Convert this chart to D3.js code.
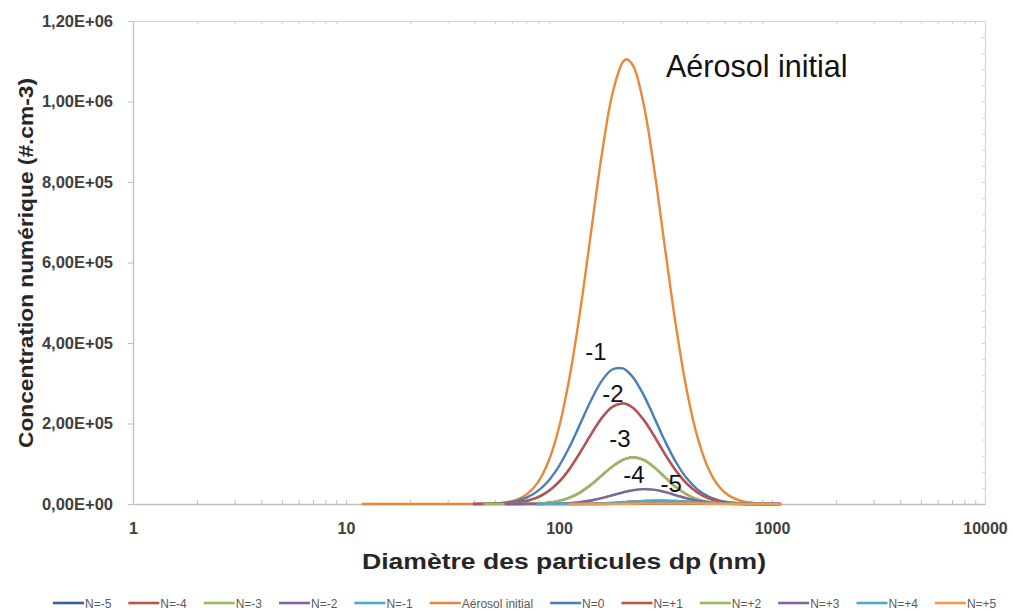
<!DOCTYPE html>
<html><head><meta charset="utf-8">
<script src="https://cdn.jsdelivr.net/npm/d3@7"></script>
<style>
body{margin:0;background:#fff}
svg text{font-family:"Liberation Sans",Arial,sans-serif}
</style>
</head><body>
<svg id="chart" width="1013" height="610"></svg>
<script>
// ---------------- DATA ----------------
// null = no value recorded for that diameter
const diameters = [12, 20, 31.6, 39.8, 44.7, 50.1, 56.2, 63.1, 70.8, 79.4, 89.1, 100, 112.2, 125.9, 141.3, 158.5, 177.8, 199.5, 208, 223.9, 251.2, 281.8, 316.2, 354.8, 398.1, 446.7, 501.2, 562.3, 631, 707.9, 794.3, 891.3, 1000, 1096];

const aerosolInitial = [0, 0, 10, 145, 480, 1460, 4080, 10450, 24580, 52960, 104800, 190000, 316000, 481900, 674200, 864900, 1017600, 1098100, 1105000, 1086700, 986400, 821100, 626900, 439000, 281900, 166000, 89700, 44400, 20190, 8410, 3210, 1130, 360, 140];
const nZero = [null, null, null, 178, 520, 1400, 3450, 7880, 16570, 32090, 57290, 94250, 142900, 199700, 257300, 305400, 334100, 336800, 331100, 312900, 268000, 211500, 153800, 103100, 63700, 36270, 19020, 9200, 4100, 1690, 640, 220, 70, 27];
const nOne = [null, null, null, 57, 183, 535, 1440, 3540, 8000, 16580, 31520, 54900, 87750, 128600, 172900, 213200, 241000, 249900, 247900, 237700, 207300, 165900, 121700, 81900, 50500, 28600, 14850, 7070, 3080, 1240, 450, 150, 45, 17];
const nTwo = [null, null, null, null, 2, 10, 39, 140, 450, 1290, 3310, 7620, 15700, 28930, 47690, 70360, 92880, 109700, 113400, 116000, 108800, 89880, 65340, 41800, 23550, 11680, 5100, 1960, 660, 197, 52, 12, 3, null];
const nThree = [null, null, null, null, null, null, 3, 11, 40, 128, 372, 966, 2250, 4680, 8720, 14540, 21690, 28960, 31270, 34590, 36980, 35140, 29390, 21640, 14020, 8000, 4020, 1780, 690, 237, 71, 19, 5, null];
const nFour = [null, null, null, null, null, null, null, null, null, 4, 14, 44, 128, 328, 745, 1500, 2690, 4280, 4910, 6040, 7570, 8420, 8320, 7300, 5690, 3930, 2420, 1320, 640, 270, 105, 36, 11, 4];
const nFive = [null, null, null, null, null, null, null, null, null, null, null, null, 4, 14, 40, 100, 216, 415, 509, 700, 1040, 1360, 1560, 1580, 1410, 1110, 770, 470, 250, 117, 49, 18, 6, 2];

const seriesNames = ["N=-5", "N=-4", "N=-3", "N=-2", "N=-1", "Aérosol initial", "N=0", "N=+1", "N=+2", "N=+3", "N=+4", "N=+5"];
// negative charges mirror the positive ones (symmetric charging)
const seriesValues = [nFive, nFour, nThree, nTwo, nOne, aerosolInitial, nZero, nOne, nTwo, nThree, nFour, nFive];
const seriesColors = ["#3B5F9C", "#C0504D", "#9BBB59", "#8064A2", "#4BACC6", "#E8883A", "#4A7EBB", "#C0504D", "#9BBB59", "#8064A2", "#4BACC6", "#F79646"];

const xTickValues = [1, 10, 100, 1000, 10000];
const yTickValues = [0, 200000, 400000, 600000, 800000, 1000000, 1200000];

const curveLabels = ["-1", "-2", "-3", "-4", "-5"];
const curveLabelDiam = [149, 179, 193, 225, 336];
const curveLabelConc = [358000, 253000, 142000, 52000, 30000];

const titleText = "Aérosol initial";
const titleDiam = 318, titleConc = 1061000;

// ---------------- LAYOUT ----------------
const svg = d3.select("#chart");
const L = 133, R = 985, T = 21, B = 504;

const x = d3.scaleLog().domain([1, 10000]).range([L, R]);
const y = d3.scaleLinear().domain([0, 1200000]).range([B, T]);

const fmt = v => {
  if (v === 0) return "0,00E+00";
  const e = Math.floor(Math.log10(v));
  const m = v / Math.pow(10, e);
  return m.toFixed(2).replace(".", ",") + "E+" + String(e).padStart(2, "0");
};

const minor = [];
for (let k = 0; k < 4; k++) for (let m = 2; m <= 9; m++) minor.push(m * Math.pow(10, k));

// top frame (minor ticks down)
const gTop = svg.append("g").attr("transform", `translate(0,${T})`)
  .call(d3.axisBottom(x).tickValues(minor).tickSize(3).tickSizeOuter(0).tickFormat(""));
// right frame (ticks inward)
const gRight = svg.append("g").attr("transform", `translate(${R},0)`)
  .call(d3.axisLeft(y).tickValues(d3.range(0, 1200001, 40000)).tickSize(3).tickSizeOuter(0).tickFormat(""));
[gTop, gRight].forEach(g => {
  g.select(".domain").attr("stroke", "#D3D3D3").attr("stroke-width", 1.2);
  g.selectAll(".tick line").attr("stroke", "#D3D3D3");
});

// bottom axis ticks (pointing up)
const gBottomTicks = svg.append("g").attr("transform", `translate(0,${B})`)
  .call(d3.axisTop(x).tickValues(minor.concat([10, 100, 1000])).tickSize(4).tickSizeOuter(0).tickFormat(""));
gBottomTicks.select(".domain").attr("stroke", "#BFBFBF").attr("stroke-width", 1.3);
gBottomTicks.selectAll(".tick line").attr("stroke", "#BFBFBF");

// bottom labels
const gBottom = svg.append("g").attr("transform", `translate(0,${B})`)
  .call(d3.axisBottom(x).tickValues(xTickValues).tickSize(0).tickPadding(19).tickFormat(d3.format("d")));
gBottom.select(".domain").remove();
gBottom.selectAll("text").attr("font-size", 16).attr("font-weight", "bold").attr("fill", "#404040")
  .attr("font-family", '"Liberation Sans",Arial,sans-serif');

// left axis
const gLeft = svg.append("g").attr("transform", `translate(${L},0)`)
  .call(d3.axisLeft(y).tickValues(yTickValues).tickSize(5).tickSizeOuter(0).tickPadding(15).tickFormat(fmt));
gLeft.select(".domain").attr("stroke", "#BFBFBF").attr("stroke-width", 1.3);
gLeft.selectAll(".tick line").attr("stroke", "#BFBFBF");
gLeft.selectAll("text").attr("font-size", 16.5).attr("font-weight", "bold").attr("fill", "#404040")
  .attr("font-family", '"Liberation Sans",Arial,sans-serif');

// axis titles
svg.append("text").attr("x", (L + R) / 2 + 5).attr("y", 569).attr("text-anchor", "middle")
  .attr("font-size", 22).attr("font-weight", "bold").attr("fill", "#262626")
  .attr("textLength", 404).attr("lengthAdjust", "spacingAndGlyphs")
  .text("Diamètre des particules dp (nm)");
svg.append("text").attr("transform", "translate(33,263) rotate(-90)").attr("text-anchor", "middle")
  .attr("font-size", 21).attr("font-weight", "bold").attr("fill", "#262626")
  .attr("textLength", 370).attr("lengthAdjust", "spacingAndGlyphs")
  .text("Concentration numérique (#.cm-3)");

// ---------------- LINES ----------------
const line = d3.line()
  .defined(d => d != null)
  .x((d, i) => x(diameters[i]))
  .y(d => y(d))
  .curve(d3.curveCatmullRom.alpha(0.5));

svg.append("defs").append("clipPath").attr("id", "clip")
  .append("rect").attr("x", L).attr("y", T - 2).attr("width", R - L).attr("height", B - T + 5);

const gLines = svg.append("g").attr("clip-path", "url(#clip)");
seriesValues.forEach((vals, i) => {
  gLines.append("path").attr("d", line(vals)).attr("fill", "none")
    .attr("stroke", seriesColors[i]).attr("stroke-width", 2.4)
    .attr("stroke-linejoin", "round").attr("stroke-linecap", "round");
});

// ---------------- ANNOTATIONS ----------------
curveLabels.forEach((t, i) => {
  svg.append("text").attr("x", x(curveLabelDiam[i])).attr("y", y(curveLabelConc[i]))
    .attr("text-anchor", "middle").attr("font-size", 24).attr("fill", "#111").text(t);
});
svg.append("text").attr("x", x(titleDiam)).attr("y", y(titleConc))
  .attr("font-size", 30.5).attr("fill", "#111").text(titleText);

// ---------------- LEGEND ----------------
const gLeg = svg.append("g").attr("transform", "translate(0,603)");
let lx = 53;
seriesNames.forEach((n, i) => {
  gLeg.append("line").attr("x1", lx).attr("x2", lx + 31).attr("y1", 0).attr("y2", 0)
    .attr("stroke", seriesColors[i]).attr("stroke-width", 2.6);
  const t = gLeg.append("text").attr("x", lx + 32).attr("y", 4.5).attr("font-size", 12)
    .attr("fill", "#595959").text(n);
  lx += 32 + t.node().getComputedTextLength() + 17;
});
</script>
</body></html>
